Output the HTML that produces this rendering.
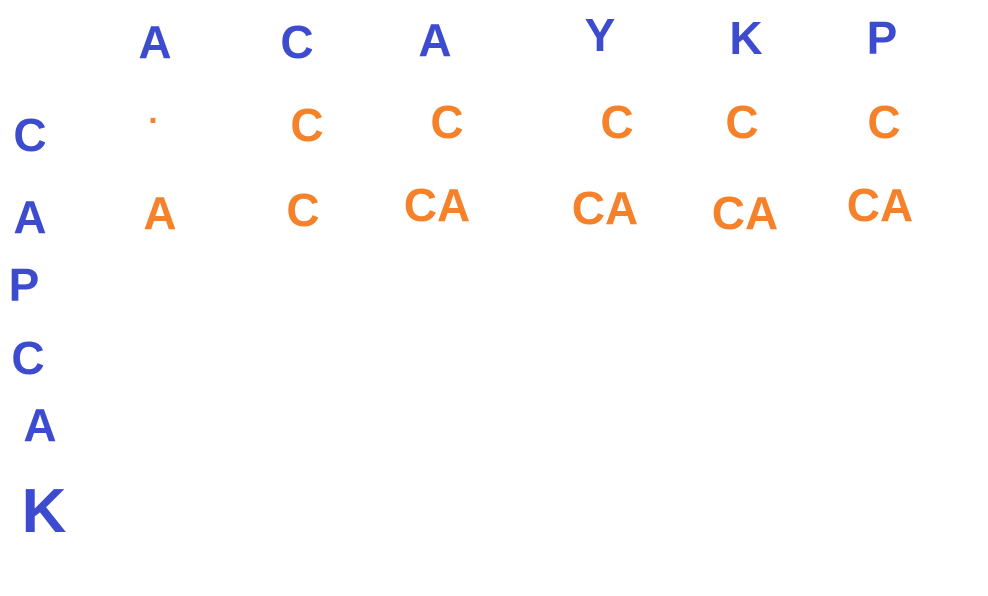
<!DOCTYPE html>
<html><head><meta charset="utf-8"><style>
body{margin:0;width:988px;height:596px;background:#fff;overflow:hidden;position:relative;font-family:"Liberation Sans",sans-serif;}
.t{position:absolute;transform:translate(-50%,-50%);font-size:46px;line-height:1;font-weight:bold;}
.b{color:#3d4bcf;}
.o{color:#f5822a;}
</style></head><body>
<div class="t b" style="left:155px;top:42px">A</div>
<div class="t b" style="left:297px;top:42px">C</div>
<div class="t b" style="left:435px;top:40px">A</div>
<div class="t b" style="left:600px;top:35px">Y</div>
<div class="t b" style="left:746px;top:38px">K</div>
<div class="t b" style="left:882px;top:38px">P</div>

<div class="t b" style="left:30px;top:135px">C</div>
<div class="t b" style="left:30px;top:217px">A</div>
<div class="t b" style="left:24px;top:285px">P</div>
<div class="t b" style="left:28px;top:358px">C</div>
<div class="t b" style="left:40px;top:425px">A</div>
<div class="t b" style="left:44px;top:512px;font-size:62px">K</div>

<div class="t o" style="left:153px;top:112px;font-size:34px">.</div>
<div class="t o" style="left:307px;top:125px">C</div>
<div class="t o" style="left:447px;top:122px">C</div>
<div class="t o" style="left:617px;top:122px">C</div>
<div class="t o" style="left:742px;top:122px">C</div>
<div class="t o" style="left:884px;top:122px">C</div>

<div class="t o" style="left:160px;top:213px">A</div>
<div class="t o" style="left:303px;top:210px">C</div>
<div class="t o" style="left:437px;top:205px">CA</div>
<div class="t o" style="left:605px;top:208px">CA</div>
<div class="t o" style="left:745px;top:213px">CA</div>
<div class="t o" style="left:880px;top:205px">CA</div>
</body></html>
